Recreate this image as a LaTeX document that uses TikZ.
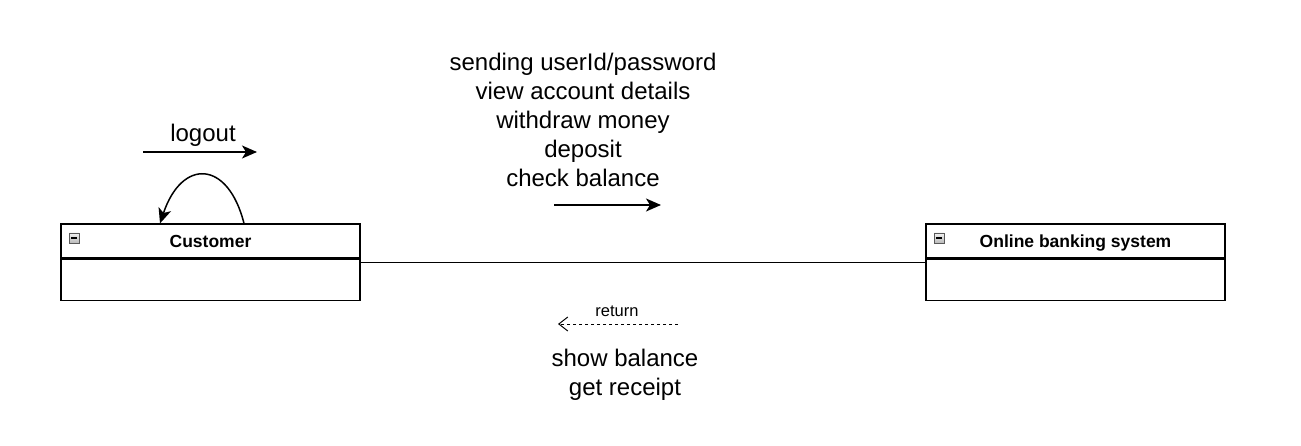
\documentclass[tikz,border=0pt]{standalone}
\usepackage{fontspec}
\setmainfont{Liberation Sans}
\usetikzlibrary{arrows.meta}
\tikzset{
	classhead/.style = {draw=black, line width=1.2pt, minimum width=299pt, minimum height=34pt,
		inner sep=0pt, text height=12.6pt, text depth=0pt,
		font=\fontsize{17.5}{20}\selectfont\bfseries},% en-tete de classe
	classbody/.style = {draw=black, line width=1.2pt, minimum width=299pt, minimum height=41pt,
		inner sep=0pt},% corps de classe
	msgtext/.style = {align=center, inner sep=0pt, font=\fontsize{24}{29}\selectfont},
	smalltext/.style = {inner sep=0pt, font=\fontsize{16.5}{19}\selectfont},
	foldbox/.style = {draw=gray!70!black, top color=gray!10, bottom color=gray!55,
		minimum size=10pt, inner sep=0pt},
	msgline/.style = {line width=1.5pt, -{Stealth[length=15pt,width=13pt,inset=4pt]}}
}
\begin{document}
\begin{tikzpicture}[x=1pt,y=-1pt]
	\useasboundingbox (0,0) rectangle (1301,446);
	% les deux classes
	\node [classhead] (cust) at (210.5,241) {Customer};
	\node [classbody, anchor=north] (custb) at (cust.south) {};
	\node [classhead] (bank) at (1075.5,241) {Online banking system};
	\node [classbody, anchor=north] (bankb) at (bank.south) {};
	\node [foldbox] (custf) at (74,238) {};
	\draw [black, line width=1.2pt] ([xshift=-3pt]custf.center) -- ([xshift=3pt]custf.center);
	\node [foldbox] (bankf) at (939,238) {};
	\draw [black, line width=1.2pt] ([xshift=-3pt]bankf.center) -- ([xshift=3pt]bankf.center);
	% association
	\draw [line width=1.5pt] ([yshift=-4pt]custb.north east) -- ([yshift=-4pt]bankb.north west);
	% boucle logout
	\draw [msgline] ([xshift=33.5pt]cust.north) .. controls (228,160) and (182,158) .. ([xshift=-50.5pt]cust.north);
	\node [msgtext] (lbllogout) at (203,135) {logout};
	\coordinate (lgA) at (143,152);
	\coordinate (lgB) at (257,152);
	\draw [msgline] (lgA) -- (lgB);
	% messages
	\node [msgtext] (msgin) at (583,120) {sending userId/password\\view account details\\withdraw money\\deposit\\check balance};
	\coordinate (inA) at (554,205);
	\coordinate (inB) at (661,205);
	\draw [msgline] (inA) -- (inB);
	\node [smalltext] (lblreturn) at (617,311) {return};
	\coordinate (retA) at (678,324);
	\coordinate (retB) at (558,324);
	\draw [line width=1pt, dash pattern=on 3pt off 3pt, -{Straight Barb[length=9pt,width=14pt]}] (retA) -- (retB);
	\node [msgtext] (msgret) at (625,374.5) {show balance\\get receipt};
\end{tikzpicture}
\end{document}
